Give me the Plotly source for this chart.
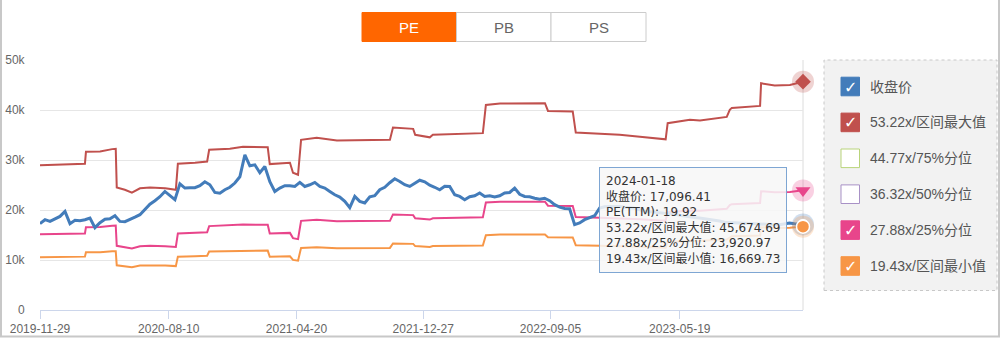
import plotly.graph_objects as go
import pandas as pd

# ---------------- data ----------------
start_date = "2019-11-29"
last_sample_date = "2024-01-11"
end_date = "2024-01-18"

close_values = [
    17270, 18060, 17720, 18200, 18720, 19720, 17270, 17960, 17860, 18060,
    18400, 16470, 17470, 18160, 18260, 18860, 17720, 17660, 18060, 18560,
    19060, 20060, 21160, 21860, 22650, 23710, 22950, 22060, 25250, 24390,
    24450, 24450, 24850, 25650, 25050, 23510, 23350, 24050, 24550, 25390,
    26650, 31040, 28840, 29040, 27450, 28700, 25650, 23710, 24390, 24850,
    24850, 24710, 25510, 24710, 25050, 25510, 24710, 24390, 23710, 23050,
    22590, 21720, 20460, 22710, 21720, 21400, 22650, 22850, 24050, 24550,
    25450, 26250, 25710, 25050, 24710, 25390, 25950, 25650, 24950, 24550,
    24050, 24750, 24710, 23050, 22710, 22060, 22650, 22850, 23390, 22710,
    22850, 22590, 22850, 23390, 23510, 24390, 23150, 22710, 22650, 22360,
    22160, 22360, 21860, 21060, 20560, 20300, 20260, 17070, 17400, 18060,
    18400, 18860, 20400, 20660, 20720, 20720, 20720, 20560, 20460, 20360,
    20060, 19760, 19660, 19520, 19400, 19340, 19260, 19200, 18960, 18760,
    18660, 18500, 18400, 18260, 18120, 18000, 17800, 17560, 17500, 17470,
    17400, 17370, 17300, 17270, 17170, 17070, 17070, 17070, 17070, 17270,
    17400, 17270, 17200,
]
close_last = 17096.41

eps_dates = [
    "2019-11-29", "2020-02-26", "2020-02-28", "2020-03-27", "2020-04-20", "2020-04-27",
    "2020-04-29", "2020-05-15", "2020-05-29", "2020-06-14", "2020-07-04", "2020-08-03",
    "2020-08-24", "2020-08-28", "2020-10-01", "2020-10-25", "2020-10-29", "2020-12-09",
    "2021-01-04", "2021-02-22", "2021-02-26", "2021-04-07", "2021-04-13", "2021-04-23",
    "2021-04-29", "2021-05-30", "2021-07-09", "2021-08-24", "2021-10-22", "2021-10-28",
    "2021-12-07", "2021-12-11", "2022-01-09", "2022-01-15", "2022-02-18", "2022-04-24",
    "2022-04-30", "2022-05-28", "2022-08-25", "2022-08-31", "2022-10-19", "2022-10-25",
    "2022-12-12", "2023-01-20", "2023-03-01", "2023-04-10", "2023-04-21", "2023-04-25",
    "2023-06-08", "2023-06-28", "2023-08-20", "2023-08-26", "2023-08-30", "2023-10-25",
    "2023-10-27", "2023-11-23", "2023-12-23", "2024-01-18",
]
eps_values = [
    543.8, 549.4, 594.5, 595.6, 604.6, 605.7,
    460.6, 451.9, 440.7, 457.5, 460.6, 457.5,
    451.9, 549.4, 553.2, 558.1, 601.9, 605.7,
    613.2, 611.3, 548.3, 553.2, 515.7, 508.2,
    639.4, 647.0, 636.8, 637.6, 639.4, 685.6,
    680.7, 658.2, 648.8, 658.2, 660.1, 664.6,
    770.7, 776.3, 777.1, 748.2, 746.3, 666.8,
    662.0, 658.2, 650.7, 642.1, 641.3, 702.1,
    714.5, 712.6, 725.7, 752.0, 759.5, 767.0,
    852.1, 843.9, 845.7, 858.22,
]

band_multiples = [53.22, 44.77, 36.32, 27.88, 19.43]
band_names = ["53.22x/区间最大值", "44.77x/75%分位", "36.32x/50%分位", "27.88x/25%分位", "19.43x/区间最小值"]
band_visible = [True, False, False, True, True]
band_colors = ["#c0504d", "#b9d47a", "#a891c6", "#e8458b", "#f79646"]

close_name = "收盘价"
close_color = "#437cba"

pe_ttm_last = 19.92
tip_band_values = [45674.69, None, None, 23920.97, 16669.73]

x_tickvals = ["2019-11-29", "2020-08-10", "2021-04-20", "2021-12-27", "2022-09-05", "2023-05-19"]
y_tickvals = [0, 10000, 20000, 30000, 40000, 50000]
y_ticktext = ["0", "10k", "20k", "30k", "40k", "50k"]
tabs = ["PE", "PB", "PS"]

# ---------------- figure ----------------
W, H = 1000, 338
L, R, T, B = 40, 197, 60, 28
PW = W - L - R
PH = H - T - B


def px(x):
    return (x - L) / PW


def py(y):
    return (H - B - y) / PH


close_dates = list(pd.date_range(start_date, last_sample_date, periods=len(close_values))) + [pd.Timestamp(end_date)]
close_all = close_values + [close_last]
eps_x = pd.to_datetime(eps_dates)

fig = go.Figure()

for name, mult, vis, col in zip(band_names, band_multiples, band_visible, band_colors):
    fig.add_trace(go.Scatter(
        x=eps_x, y=[e * mult for e in eps_values], mode="lines", name=name,
        line=dict(color=col, width=2), visible=vis, showlegend=False,
    ))

fig.add_trace(go.Scatter(
    x=close_dates, y=close_all, mode="lines", name=close_name,
    line=dict(color=close_color, width=3), showlegend=False,
))

# end-point highlight markers
end_x = [pd.Timestamp(end_date)]
marker_defs = [
    (close_last, close_color, "circle", 10, 1.5),
    (tip_band_values[0], band_colors[0], "diamond", 12, 0),
    (tip_band_values[3], band_colors[3], "triangle-down", 13, 0),
    (tip_band_values[4], band_colors[4], "circle", 13, 1.5),
]
for val, col, sym, size, lw in marker_defs:
    fig.add_trace(go.Scatter(
        x=end_x, y=[val], mode="markers", showlegend=False, cliponaxis=False,
        marker=dict(size=22, color=col, opacity=0.25, line=dict(width=0)),
    ))
for val, col, sym, size, lw in marker_defs:
    fig.add_trace(go.Scatter(
        x=end_x, y=[val], mode="markers", showlegend=False, cliponaxis=False,
        marker=dict(size=size, color=col, symbol=sym, line=dict(width=lw, color="white")),
    ))

shapes = []
annotations = []

# right border line of plot
shapes.append(dict(type="line", xref="paper", yref="paper", x0=1, x1=1, y0=0, y1=1,
                   line=dict(color="#dcdcdc", width=1), layer="below"))

# outer frame
frame_col = "#c8c8c8"
shapes.append(dict(type="line", xref="paper", yref="paper", x0=px(1), x1=px(1), y0=py(0), y1=py(337),
                   line=dict(color=frame_col, width=2)))
shapes.append(dict(type="line", xref="paper", yref="paper", x0=px(999), x1=px(999), y0=py(0), y1=py(337),
                   line=dict(color=frame_col, width=2)))
shapes.append(dict(type="line", xref="paper", yref="paper", x0=px(0), x1=px(1000), y0=py(336.5), y1=py(336.5),
                   line=dict(color=frame_col, width=2)))

# tabs
tab_x = [362, 456.5, 551, 646]
for i, t in enumerate(tabs):
    active = i == 0
    shapes.append(dict(type="rect", xref="paper", yref="paper",
                       x0=px(tab_x[i]), x1=px(tab_x[i + 1]), y0=py(41.5), y1=py(12.5),
                       fillcolor="#ff6600" if active else "white",
                       line=dict(color="#ff6600" if active else "#cccccc", width=1)))
    annotations.append(dict(xref="paper", yref="paper", x=px((tab_x[i] + tab_x[i + 1]) / 2), y=py(27.5),
                            text=t, showarrow=False, xanchor="center", yanchor="middle",
                            font=dict(family="Liberation Sans, Arial", size=15,
                                      color="white" if active else "#666666")))

# legend box
shapes.append(dict(type="rect", xref="paper", yref="paper", x0=px(824), x1=px(997), y0=py(290.5), y1=py(60),
                   fillcolor="#f2f2f2", line=dict(color="#c8c8c8", width=1, dash="dot"), layer="below"))
leg_names = [close_name] + band_names
leg_colors = [close_color] + band_colors
leg_checked = [True] + band_visible
for i, (nm, col, chk) in enumerate(zip(leg_names, leg_colors, leg_checked)):
    cy = 86.5 + 35.9 * i
    shapes.append(dict(type="rect", xref="paper", yref="paper", x0=px(841), x1=px(859.5),
                       y0=py(cy + 9.3), y1=py(cy - 9.3),
                       fillcolor=col if chk else "white", line=dict(color=col, width=1)))
    if chk:
        annotations.append(dict(xref="paper", yref="paper", x=px(850.2), y=py(cy + 0.5), text="✓",
                                showarrow=False, xanchor="center", yanchor="middle",
                                font=dict(family="DejaVu Sans", size=16, color="white")))
    annotations.append(dict(xref="paper", yref="paper", x=px(867.5), y=py(cy), text=nm,
                            showarrow=False, xanchor="left", yanchor="middle",
                            font=dict(family="Liberation Sans, Noto Sans CJK SC", size=14, color="#555555")))

# tooltip
tip_lines = [
    end_date,
    f"{close_name}: {close_last:,.2f}",
    f"PE(TTM): {pe_ttm_last:.2f}",
]
for nm, v in zip(band_names, tip_band_values):
    if v is not None:
        tip_lines.append(f"{nm}: {v:,.2f}")
annotations.append(dict(xref="paper", yref="paper", x=px(599), y=py(166.5), text="<br>".join(tip_lines),
                        showarrow=False, xanchor="left", yanchor="top", align="left",
                        bgcolor="rgba(247,247,247,0.86)", bordercolor="#7ea6d3", borderwidth=1, borderpad=6,
                        font=dict(family="DejaVu Sans, Noto Sans CJK SC", size=12, color="#333333")))

fig.update_layout(
    width=W, height=H,
    margin=dict(l=L, r=R, t=T, b=B, autoexpand=False),
    paper_bgcolor="white", plot_bgcolor="white",
    showlegend=False, hovermode=False,
    shapes=shapes, annotations=annotations,
    xaxis=dict(
        type="date", range=[start_date, end_date],
        tickvals=x_tickvals, ticktext=x_tickvals,
        showgrid=False, zeroline=False,
        showline=True, linecolor="#ccd6eb", linewidth=1,
        ticks="outside", ticklen=8, tickcolor="#ccd6eb",
        tickfont=dict(family="Liberation Sans, Arial", size=12, color="#666666"),
    ),
    yaxis=dict(
        range=[0, 50000], tickvals=y_tickvals, ticktext=y_ticktext,
        showgrid=True, gridcolor="#e6e6e6", gridwidth=1, zeroline=False, showline=False,
        ticks="outside", ticklen=12, tickcolor="rgba(0,0,0,0)",
        tickfont=dict(family="Liberation Sans, Arial", size=12, color="#666666"),
    ),
)

fig.write_html("out.html")
